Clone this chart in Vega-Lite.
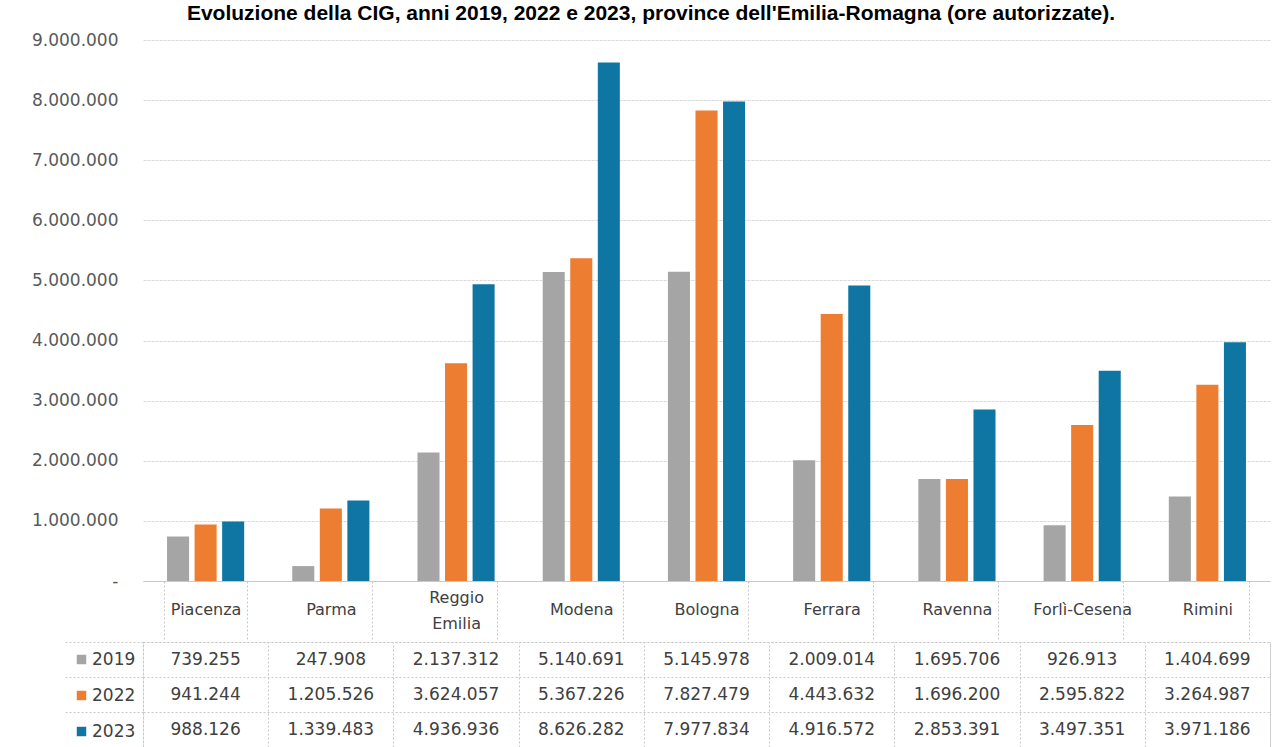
{
  "$schema": "https://vega.github.io/schema/vega-lite/v6.json",
  "padding": {"left": 31, "top": 3, "right": 9, "bottom": 0},
  "background": "white",
  "config": {
    "locale": {"number": {"decimal": ",", "thousands": ".", "grouping": [3], "currency": ["€", ""]}},
    "font": "DejaVu Sans",
    "view": {"stroke": null},
    "concat": {"spacing": 0}
  },
  "title": {
    "text": "Evoluzione della CIG, anni 2019, 2022 e 2023, province dell'Emilia-Romagna (ore autorizzate).",
    "font": "Liberation Sans", "fontSize": 21, "fontWeight": "bold", "color": "#000000",
    "anchor": "middle", "offset": 7
  },
  "data": {"values": [
    {"provincia": "Piacenza", "anno": "2019", "ore": 739255},
    {"provincia": "Piacenza", "anno": "2022", "ore": 941244},
    {"provincia": "Piacenza", "anno": "2023", "ore": 988126},
    {"provincia": "Parma", "anno": "2019", "ore": 247908},
    {"provincia": "Parma", "anno": "2022", "ore": 1205526},
    {"provincia": "Parma", "anno": "2023", "ore": 1339483},
    {"provincia": "Reggio Emilia", "anno": "2019", "ore": 2137312},
    {"provincia": "Reggio Emilia", "anno": "2022", "ore": 3624057},
    {"provincia": "Reggio Emilia", "anno": "2023", "ore": 4936936},
    {"provincia": "Modena", "anno": "2019", "ore": 5140691},
    {"provincia": "Modena", "anno": "2022", "ore": 5367226},
    {"provincia": "Modena", "anno": "2023", "ore": 8626282},
    {"provincia": "Bologna", "anno": "2019", "ore": 5145978},
    {"provincia": "Bologna", "anno": "2022", "ore": 7827479},
    {"provincia": "Bologna", "anno": "2023", "ore": 7977834},
    {"provincia": "Ferrara", "anno": "2019", "ore": 2009014},
    {"provincia": "Ferrara", "anno": "2022", "ore": 4443632},
    {"provincia": "Ferrara", "anno": "2023", "ore": 4916572},
    {"provincia": "Ravenna", "anno": "2019", "ore": 1695706},
    {"provincia": "Ravenna", "anno": "2022", "ore": 1696200},
    {"provincia": "Ravenna", "anno": "2023", "ore": 2853391},
    {"provincia": "Forlì-Cesena", "anno": "2019", "ore": 926913},
    {"provincia": "Forlì-Cesena", "anno": "2022", "ore": 2595822},
    {"provincia": "Forlì-Cesena", "anno": "2023", "ore": 3497351},
    {"provincia": "Rimini", "anno": "2019", "ore": 1404699},
    {"provincia": "Rimini", "anno": "2022", "ore": 3264987},
    {"provincia": "Rimini", "anno": "2023", "ore": 3971186}
  ]},
  "resolve": {"legend": {"color": "independent"}},
  "vconcat": [
    {
      "width": 1127,
      "height": 541,
      "mark": {"type": "bar"},
      "encoding": {
        "x": {
          "field": "provincia", "type": "nominal",
          "sort": ["Piacenza", "Parma", "Reggio Emilia", "Modena", "Bologna", "Ferrara", "Ravenna", "Forlì-Cesena", "Rimini"],
          "scale": {"paddingInner": 0.34, "paddingOuter": 0.17},
          "axis": {
            "title": null, "labelAngle": 0, "labelFontSize": 16, "labelColor": "#404040",
            "labelExpr": "datum.value == 'Reggio Emilia' ? ['Reggio', 'Emilia'] : datum.label",
            "tickBand": "extent", "tickSize": 59, "tickColor": "#C8C8C8", "tickDash": [2, 2],
            "domainColor": "#C8C8C8",
            "labelPadding": {"condition": {"test": "datum.value == 'Reggio Emilia'", "value": -43}, "value": -31},
            "labelBaseline": "middle", "labelLineHeight": 26
          }
        },
        "xOffset": {"field": "anno", "type": "nominal", "scale": {"paddingInner": 0.2, "paddingOuter": 0.1}},
        "y": {
          "field": "ore", "type": "quantitative",
          "scale": {"domain": [0, 9000000]},
          "axis": {
            "title": null,
            "values": [0, 1000000, 2000000, 3000000, 4000000, 5000000, 6000000, 7000000, 8000000, 9000000],
            "format": ",d",
            "labelExpr": "datum.value == 0 ? '-' : datum.label",
            "labelFontSize": 17, "labelColor": "#595959", "labelPadding": 25,
            "ticks": false, "domain": false, "gridColor": "#D9D9D9", "gridDash": [3, 1]
          }
        },
        "color": {
          "field": "anno", "type": "nominal",
          "scale": {"domain": ["2019", "2022", "2023"], "range": ["#A5A5A5", "#ED7D31", "#0F76A3"]},
          "legend": null
        }
      }
    },
    {
      "width": 1127,
      "height": 105,
      "view": {"stroke": "#C8C8C8", "strokeDash": [2, 2]},
      "encoding": {
        "x": {
          "field": "provincia", "type": "nominal",
          "sort": ["Piacenza", "Parma", "Reggio Emilia", "Modena", "Bologna", "Ferrara", "Ravenna", "Forlì-Cesena", "Rimini"],
          "scale": {"paddingInner": 0, "paddingOuter": 0},
          "axis": {"labels": false, "ticks": false, "domain": false, "title": null, "grid": true, "tickBand": "extent", "gridColor": "#C8C8C8", "gridDash": [2, 2]}
        },
        "y": {
          "field": "anno", "type": "nominal",
          "scale": {"paddingInner": 0, "paddingOuter": 0},
          "axis": {"labels": false, "title": null, "domain": false, "tickBand": "extent", "tickSize": 80, "grid": true, "tickColor": "#C8C8C8", "tickDash": [2, 2], "gridColor": "#C8C8C8", "gridDash": [2, 2]}
        }
      },
      "layer": [
        {
          "mark": {"type": "text", "fontSize": 17, "color": "#404040"},
          "encoding": {"text": {"field": "ore", "type": "quantitative", "format": ",d"}}
        },
        {
          "mark": {"type": "square", "opacity": 0},
          "encoding": {
            "color": {
              "field": "anno", "type": "nominal",
              "scale": {"domain": ["2019", "2022", "2023"], "range": ["#A5A5A5", "#ED7D31", "#0F76A3"]},
              "legend": {
                "orient": "none", "legendX": -70, "legendY": 9, "title": null,
                "symbolType": "square", "symbolSize": 90, "symbolOpacity": 1, "symbolStrokeWidth": 0,
                "labelFontSize": 17, "labelColor": "#404040", "rowPadding": 18, "padding": 0, "labelOffset": 2
              }
            }
          }
        }
      ]
    }
  ]
}
